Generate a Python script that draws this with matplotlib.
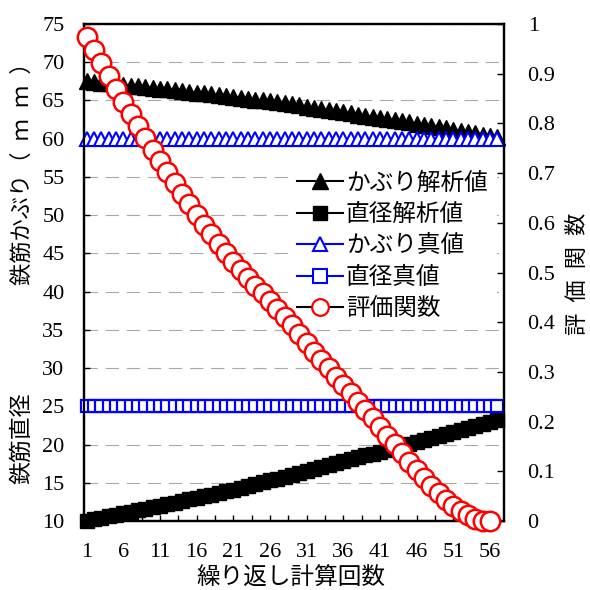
import matplotlib
matplotlib.use('Agg')
import matplotlib.pyplot as plt
from matplotlib.lines import Line2D

# ---------------- data ----------------
iterations = list(range(1, 58))          # 57 iterations for the analysed / true values
eval_iterations = list(range(1, 57))     # 56 iterations for the evaluation function

cover_est = [67.50, 67.41, 67.32, 67.23, 67.14, 67.05, 66.95, 66.86, 66.76, 66.66,
             66.56, 66.46, 66.35, 66.25, 66.14, 66.03, 65.93, 65.81, 65.70, 65.59,
             65.47, 65.36, 65.24, 65.12, 65.00, 64.88, 64.75, 64.63, 64.50, 64.37,
             64.11, 63.98, 63.85, 63.71, 63.57, 63.44, 63.30, 63.16, 63.01, 62.87,
             62.72, 62.58, 62.43, 62.28, 62.13, 61.97, 61.82, 61.67, 61.51, 61.35,
             61.19, 61.03, 60.87, 60.70, 60.54, 60.37, 60.20]

diam_est = [10.00, 10.20, 10.40, 10.60, 10.80, 11.00, 11.20, 11.40, 11.60, 11.80,
            12.00, 12.20, 12.40, 12.61, 12.82, 13.03, 13.24, 13.45, 13.66, 13.87,
            14.08, 14.33, 14.57, 14.82, 15.06, 15.31, 15.55, 15.80, 16.04, 16.29,
            16.53, 16.78, 17.04, 17.29, 17.55, 17.80, 18.06, 18.31, 18.57, 18.82,
            19.08, 19.33, 19.59, 19.85, 20.11, 20.37, 20.63, 20.89, 21.15, 21.41,
            21.67, 21.93, 22.19, 22.45, 22.71, 22.97, 23.23]

cover_true = [60.0] * 57
diam_true = [25.0] * 57

eval_func = [0.973, 0.948, 0.922, 0.896, 0.870, 0.844, 0.819, 0.794, 0.770, 0.747,
             0.724, 0.702, 0.680, 0.658, 0.637, 0.616, 0.596, 0.577, 0.558, 0.540,
             0.522, 0.505, 0.488, 0.473, 0.458, 0.443, 0.427, 0.411, 0.394, 0.377,
             0.359, 0.340, 0.323, 0.307, 0.290, 0.274, 0.257, 0.240, 0.223, 0.207,
             0.190, 0.171, 0.154, 0.136, 0.119, 0.103, 0.087, 0.071, 0.056, 0.042,
             0.031, 0.021, 0.012, 0.005, 0.001, 0.000]

x_ticks = [1, 6, 11, 16, 21, 26, 31, 36, 41, 46, 51, 56]
x_minor = [3.5, 8.5, 13.5, 18.5, 23.5, 28.5, 33.5, 38.5, 43.5, 48.5, 53.5]
left_ticks = [10, 15, 20, 25, 30, 35, 40, 45, 50, 55, 60, 65, 70, 75]
right_ticks = [0, 0.1, 0.2, 0.3, 0.4, 0.5, 0.6, 0.7, 0.8, 0.9, 1.0]
right_labels = ['0', '0.1', '0.2', '0.3', '0.4', '0.5', '0.6', '0.7', '0.8', '0.9', '1']

labels = ['かぶり解析値', '直径解析値', 'かぶり真値', '直径真値', '評価関数']

# ---------------- styles ----------------
JP = ['Noto Sans CJK JP', 'DejaVu Sans']
SERIF = ['Liberation Serif', 'DejaVu Serif']
BLUE = '#0000FF'
RED = '#FF0000'

W, H = 590, 590
fig = plt.figure(figsize=(W / 100, H / 100), dpi=100)
L, R, T, B = 84, 504, 24, 521
pos = [L / W, 1 - B / H, (R - L) / W, (B - T) / H]
ax = fig.add_axes(pos)
ax2 = ax.twinx()

ax.set_xlim(0.63, 57.9)
ax.set_ylim(10, 75)
ax2.set_ylim(0, 1)

# grid
ax.set_axisbelow(True)
ax.yaxis.grid(True, color='#a8a8a8', linestyle=(0, (12, 7)), linewidth=0.8)

# series
ax.plot(iterations, cover_est, color='black', lw=1.5, marker='^', ms=12,
        mfc='black', mec='black', clip_on=False, zorder=3)
ax.plot(iterations, diam_est, color='black', lw=1.5, marker='s', ms=9.8,
        mfc='black', mec='black', clip_on=False, zorder=3)
ax.plot(iterations, cover_true, color=BLUE, lw=1.5, marker='^', ms=10.5,
        mfc='white', mec=BLUE, mew=1.5, clip_on=False, zorder=4)
ax.plot(iterations, diam_true, color=BLUE, lw=1.5, marker='s', ms=8,
        mfc='white', mec=BLUE, mew=1.6, clip_on=False, zorder=4)
ax2.plot(eval_iterations, eval_func, color='black', lw=1.5, marker='o', ms=14,
         mfc='white', mec=RED, mew=1.8, clip_on=False, zorder=3)

# ticks
ax.set_xticks(x_ticks)
ax.set_xticks(x_minor, minor=True)
ax.set_xticklabels([str(v) for v in x_ticks], fontfamily=SERIF, fontsize=16)
ax.tick_params(axis='x', which='both', direction='in', length=4, width=1, pad=16)
ax.set_yticks(left_ticks)
ax.set_yticklabels([str(v) for v in left_ticks], fontfamily=SERIF, fontsize=16)
ax.tick_params(axis='y', direction='in', length=4, width=1, pad=14)
ax2.set_yticks(right_ticks)
ax2.set_yticklabels(right_labels, fontfamily=SERIF, fontsize=16)
ax2.tick_params(axis='y', direction='in', length=5, width=1, pad=17)

for a in (ax, ax2):
    for s in a.spines.values():
        s.set_linewidth(1.6)
        s.set_color('black')

# legend
handles = [
    Line2D([], [], color='black', lw=1.5, marker='^', ms=11, mfc='black', mec='black'),
    Line2D([], [], color='black', lw=1.5, marker='s', ms=10, mfc='black', mec='black'),
    Line2D([], [], color=BLUE, lw=1.5, marker='^', ms=10, mfc='white', mec=BLUE, mew=1.5),
    Line2D([], [], color=BLUE, lw=1.5, marker='s', ms=10, mfc='white', mec=BLUE, mew=1.5),
    Line2D([], [], color='black', lw=1.5, marker='o', ms=12, mfc='white', mec=RED, mew=1.6),
]
leg = ax.legend(handles, labels, loc='upper left',
                bbox_to_anchor=(288 / W, 1 - 162 / H), bbox_transform=fig.transFigure,
                prop={'family': JP, 'size': 17}, frameon=True, fancybox=False,
                facecolor='white', edgecolor='none', framealpha=1,
                handlelength=1.95, handletextpad=0.1, labelspacing=0.36,
                borderpad=0.4, borderaxespad=0)
leg.set_zorder(5)

# axis titles
fig.text(22 / W, 1 - 168 / H, '鉄筋かぶり（\u2002ｍ\u2002ｍ\u2002）', rotation=90,
         ha='center', va='center', family=JP, fontsize=16)
fig.text(22 / W, 1 - 438 / H, '鉄筋直径', rotation=90, ha='center', va='center',
         family=JP, fontsize=16.5)
fig.text(577 / W, 1 - 274 / H, '評\u2002価\u2002関\u2002数', rotation=90, ha='center',
         va='center', family=JP, fontsize=16)
fig.text(291 / W, 1 - 578 / H, '繰り返し計算回数', ha='center', va='center',
         family=JP, fontsize=17)

fig.savefig('out.png', dpi=100)
